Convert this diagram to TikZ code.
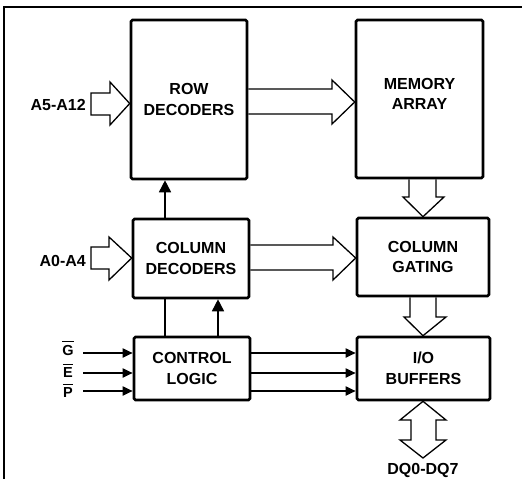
\documentclass[tikz,border=0pt]{standalone}
\usepackage{fontspec}
\setmainfont{Liberation Sans}
\usetikzlibrary{arrows.meta}
\begin{document}
\begin{tikzpicture}[x=1pt,y=-1pt,
  box/.style={draw,line width=2.6pt,rounded corners=1.5pt,inner sep=0pt,align=center,
    font=\fontsize{16}{20.5}\selectfont\bfseries},
  fat/.style={draw,line width=1.3pt,line join=miter},
  lbl/.style={inner sep=0pt,font=\fontsize{16}{19}\selectfont\bfseries},
  sig/.style={inner sep=0pt,font=\fontsize{14.5}{16}\selectfont\bfseries},
  wire/.style={line width=1.8pt,-{Triangle[length=10pt,width=9pt]}},
  vwire/.style={line width=1.6pt,-{Triangle[length=12pt,width=12pt]}},
  plainwire/.style={line width=1.6pt}]
\useasboundingbox (0,0) rectangle (522,479);
% frame
\draw[line width=1.3pt] (4,479) -- (4,7) -- (522,7);
% boxes
\node[box,minimum width=116pt,minimum height=159pt] (row) at (189,99.5) {ROW\\DECODERS};
\node[box,minimum width=127pt,minimum height=158pt] (mem) at (419.5,99) {};
\node[align=center,inner sep=0pt,font=\fontsize{16}{20.5}\selectfont\bfseries] (memtxt) at ([yshift=5pt]mem.center) {MEMORY\\ARRAY};
\node[box,minimum width=116pt,minimum height=79pt] (coldec) at (191,258.5) {COLUMN\\DECODERS};
\node[box,minimum width=132pt,minimum height=78pt] (colgate) at (423,257) {COLUMN\\GATING};
\node[box,minimum width=116pt,minimum height=63pt] (ctrl) at (192,368.5) {CONTROL\\LOGIC};
\node[box,minimum width=133pt,minimum height=63pt] (io) at (423.5,368.5) {I/O\\BUFFERS};
% labels
\node[lbl,anchor=east] (a512) at (86,105) {A5-A12};
\node[lbl,anchor=east] (a04) at (86,260.5) {A0-A4};
\node[lbl] (dq) at (423,470) {DQ0-DQ7};
\node[sig] (G) at (68,350.5) {G};
\node[sig] (E) at (68,373) {E};
\node[sig] (P) at (68,393) {P};
\foreach \n in {G,E,P}
  \draw[line width=1.4pt] ([yshift=3.5pt]\n.north west) -- ([yshift=3.5pt]\n.north east);
% fat arrows
\draw[fat] (91,93) -- (110,93) -- (110,82) -- (row.west |- 0,103.5) -- (110,125) -- (110,115) -- (91,115) -- cycle;
\draw[fat] (row.east |- 0,89) -- (332,89) -- (332,80) -- (mem.west |- 0,102) -- (332,124) -- (332,114) -- (row.east |- 0,114);
\draw[fat] (91,247) -- (109,247) -- (109,237) -- (coldec.west |- 0,258) -- (109,280) -- (109,269) -- (91,269) -- cycle;
\draw[fat] (coldec.east |- 0,245) -- (333,245) -- (333,237) -- (colgate.west |- 0,258) -- (333,280) -- (333,270) -- (coldec.east |- 0,270);
\draw[fat] (409,0 |- mem.south) -- (409,197) -- (403,197) -- (423,0 |- colgate.north) -- (444,197) -- (436,197) -- (436,0 |- mem.south);
\draw[fat] (410,0 |- colgate.south) -- (410,317) -- (404,317) -- (423,0 |- io.north) -- (446,317) -- (436,317) -- (436,0 |- colgate.south);
\draw[fat] (423,0 |- io.south) -- (446,420) -- (436,420) -- (436,440) -- (446,440) -- (423,458) -- (400,440) -- (411,440) -- (411,420) -- (400,420) -- cycle;
% thin connectors
\draw[vwire] (coldec.north -| 165,0) -- (row.south -| 165,0);
\draw[plainwire] (ctrl.north -| 165,0) -- (coldec.south -| 165,0);
\draw[vwire] (ctrl.north -| 218,0) -- (coldec.south -| 218,0);
\coordinate (gin) at (83,353);
\coordinate (ein) at (83,373);
\coordinate (pin) at (83,391);
\foreach \c in {gin,ein,pin} {
  \draw[wire] (\c) -- (\c -| ctrl.west);
  \draw[wire] (\c -| ctrl.east) -- (\c -| io.west);
}
\end{tikzpicture}
\end{document}
